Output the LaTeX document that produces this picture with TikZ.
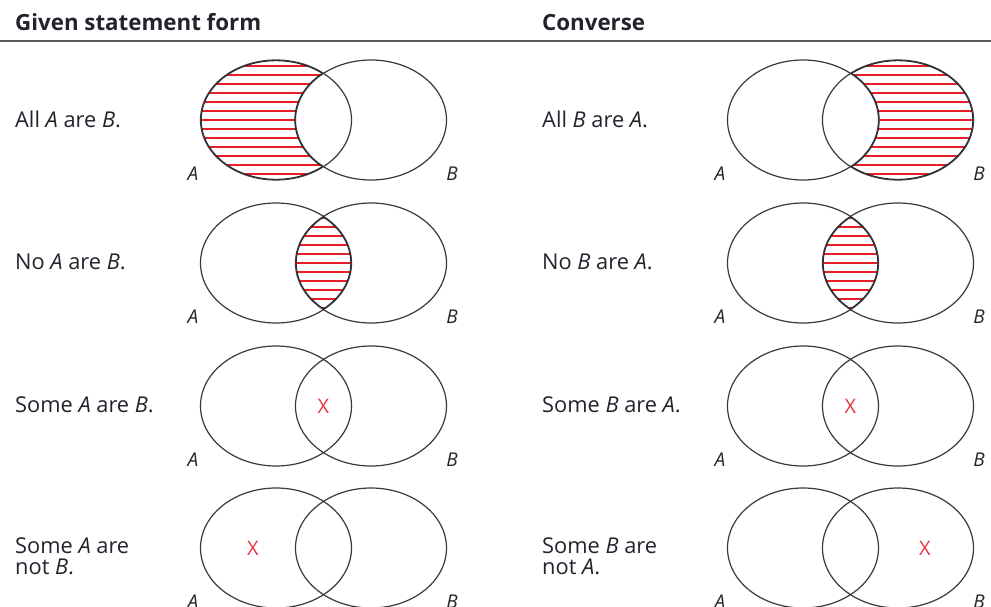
\documentclass[tikz,border=0pt]{standalone}
\usepackage{fontspec}
\setmainfont{Open Sans}
\definecolor{ink}{RGB}{35,35,45}
\definecolor{hatchred}{RGB}{232,30,40}
\definecolor{xred}{RGB}{230,55,70}
\definecolor{rule}{RGB}{90,90,90}
\tikzset{
  venn/.style={draw=ink!90, line width=1.2pt},
  rim/.style={draw=ink, line width=2.4pt},
  hatch/.style={draw=hatchred, line width=1.5pt},
  stmt/.style={anchor=west, inner sep=0pt, text=ink, font=\fontsize{21.8}{21}\selectfont, align=left},
  head/.style={anchor=base west, inner sep=0pt, text=ink, font=\bfseries\fontsize{22.3}{22}\selectfont},
  setlab/.style={inner sep=0pt, text=ink, font=\itshape\fontsize{19}{20}\selectfont},
  xmark/.style={inner sep=0pt, text=xred, font=\fontsize{20}{20}\selectfont}
}
\newcommand{\ellA}{(0,0) ellipse (75.5 and 60)}
\newcommand{\ellB}{(95,0) ellipse (75.5 and 60)}
\newcommand{\hatchlines}{\foreach \k in {-6,...,6} {\draw[hatch] (-90,\k*9) -- (190,\k*9);}}
\newcommand{\vennbase}[2]{%
  \draw[venn] \ellA; \draw[venn] \ellB;
  \node[setlab] (#1A) at (-83,54) {A};
  \node[setlab] (#1B) at (176,54) {B};
}
\begin{document}
\begin{tikzpicture}[x=1pt,y=-1pt]
\useasboundingbox (0,0) rectangle (991,606);
\fill[white] (0,0) rectangle (991,606);
% headers
\node[head] (h1) at (15,30) {Given statement form};
\node[head] (h2) at (542,30) {Converse};
\draw[rule, line width=1.8pt] (0,41) -- (991,41);
% statements
\node[stmt] (s1) at (15,119) {All \textit{A} are \textit{B}.};
\node[stmt] (s2) at (15,262) {No \textit{A} are \textit{B}.};
\node[stmt] (s3) at (15,405) {Some \textit{A} are \textit{B}.};
\node[stmt] (s4) at (15,556) {Some \textit{A} are\\not \textit{B}.};
\node[stmt] (c1) at (542,119) {All \textit{B} are \textit{A}.};
\node[stmt] (c2) at (542,262) {No \textit{B} are \textit{A}.};
\node[stmt] (c3) at (542,405) {Some \textit{B} are \textit{A}.};
\node[stmt] (c4) at (542,556) {Some \textit{B} are\\not \textit{A}.};
% Row 1 left: A minus B
\begin{scope}[shift={(276,120)}]
  \begin{scope}[even odd rule]
    \clip (-200,-100) rectangle (300,100) \ellB;
    \clip \ellA;
    \hatchlines
    \draw[rim] \ellA; \draw[rim] \ellB;
  \end{scope}
  \vennbase{r1l}{}
\end{scope}
% Row 1 right: B minus A
\begin{scope}[shift={(803,120)}]
  \begin{scope}[even odd rule]
    \clip (-200,-100) rectangle (300,100) \ellA;
    \clip \ellB;
    \hatchlines
    \draw[rim] \ellA; \draw[rim] \ellB;
  \end{scope}
  \vennbase{r1r}{}
\end{scope}
% Row 2: intersection
\begin{scope}[shift={(276,263)}]
  \begin{scope}
    \clip \ellA; \clip \ellB;
    \hatchlines
    \draw[rim] \ellA; \draw[rim] \ellB;
  \end{scope}
  \vennbase{r2l}{}
\end{scope}
\begin{scope}[shift={(803,263)}]
  \begin{scope}
    \clip \ellA; \clip \ellB;
    \hatchlines
    \draw[rim] \ellA; \draw[rim] \ellB;
  \end{scope}
  \vennbase{r2r}{}
\end{scope}
% Row 3: X in intersection
\begin{scope}[shift={(276,406)}]
  \vennbase{r3l}{}
  \node[xmark] (x3l) at (47.5,0) {X};
\end{scope}
\begin{scope}[shift={(803,406)}]
  \vennbase{r3r}{}
  \node[xmark] (x3r) at (47.5,0) {X};
\end{scope}
% Row 4
\begin{scope}[shift={(276,548)}]
  \vennbase{r4l}{}
  \node[xmark] (x4l) at (-23,0) {X};
\end{scope}
\begin{scope}[shift={(803,548)}]
  \vennbase{r4r}{}
  \node[xmark] (x4r) at (122,0) {X};
\end{scope}
\end{tikzpicture}
\end{document}
